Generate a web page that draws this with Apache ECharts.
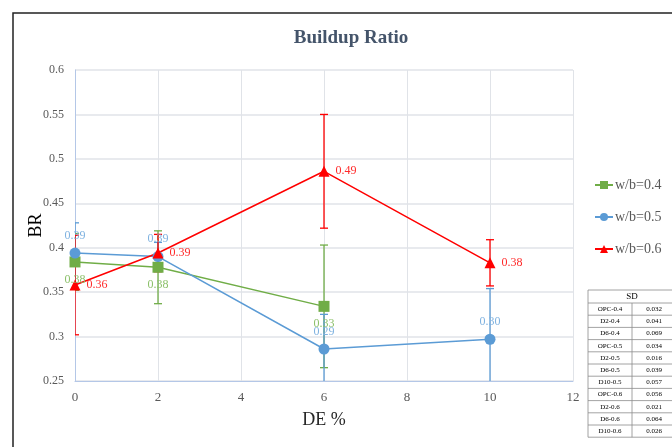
<!DOCTYPE html>
<html lang="en">
<head>
<meta charset="UTF-8" />
<title>Buildup Ratio</title>
<script src="https://cdn.jsdelivr.net/npm/echarts@6.0.0/dist/echarts.min.js"></script>
<style>
  html, body { margin: 0; padding: 0; background: #fff; }
  #main { width: 672px; height: 447px; }
</style>
</head>
<body>
<div id="main"></div>
<script>
// DE % positions and build-up ratio per w/b series
const deX04 = [0, 2, 6];
const br04 = [0.384, 0.378, 0.334];
const sd04 = [0.032, 0.041, 0.069];

const deX05 = [0, 2, 6, 10];
const br05 = [0.394, 0.390, 0.286, 0.297];
const sd05 = [0.034, 0.016, 0.039, 0.057];

const deX06 = [0, 2, 6, 10];
const br06 = [0.358, 0.394, 0.486, 0.383];
const sd06 = [0.056, 0.021, 0.064, 0.026];

const seriesNames = ['w/b=0.4', 'w/b=0.5', 'w/b=0.6'];
const sdNames = ['OPC-0.4', 'D2-0.4', 'D6-0.4', 'OPC-0.5', 'D2-0.5', 'D6-0.5',
  'D10-0.5', 'OPC-0.6', 'D2-0.6', 'D6-0.6', 'D10-0.6'];
const sdValues = sd04.concat(sd05, sd06);

const FONT = '"Liberation Serif", "DejaVu Serif", serif';

function pairs(xs, ys) {
  return xs.map((x, i) => [x, ys[i]]);
}

function errorSeries(name, xs, ys, sds, color) {
  return {
    type: 'custom',
    name: name + ' SD',
    silent: true,
    clip: true,
    z: 1,
    data: xs.map((x, i) => [x, ys[i] - sds[i], ys[i] + sds[i]]),
    encode: { x: 0, y: [1, 2] },
    renderItem: function (params, api) {
      const lo = api.coord([api.value(0), api.value(1)]);
      const hi = api.coord([api.value(0), api.value(2)]);
      const w = 4;
      const st = { stroke: color, lineWidth: 1.3 };
      return {
        type: 'group',
        children: [
          { type: 'line', shape: { x1: lo[0], y1: lo[1], x2: hi[0], y2: hi[1] }, style: st },
          { type: 'line', shape: { x1: lo[0] - w, y1: lo[1], x2: lo[0] + w, y2: lo[1] }, style: st },
          { type: 'line', shape: { x1: hi[0] - w, y1: hi[1], x2: hi[0] + w, y2: hi[1] }, style: st }
        ]
      };
    }
  };
}

function lineSeries(name, xs, ys, color, labelColor, symbol, size, pos) {
  return {
    type: 'line',
    name: name,
    z: 3,
    data: pairs(xs, ys),
    symbol: symbol,
    symbolSize: size,
    itemStyle: { color: color },
    lineStyle: { color: color, width: 1.5 },
    label: {
      show: true,
      position: pos,
      distance: 6,
      color: labelColor,
      fontFamily: FONT,
      fontSize: 12,
      formatter: p => p.value[1].toFixed(2)
    }
  };
}

// SD table, built from the arrays above
const tblLeft = 588, tblTop = 290, colW = [44, 44], headH = 13, rowH = 12.2;
const tblW = colW[0] + colW[1];
const tblChildren = [];
const tblH = headH + rowH * sdNames.length;
tblChildren.push({ type: 'rect', shape: { x: tblLeft, y: tblTop, width: tblW, height: tblH },
  style: { fill: '#fff', stroke: '#8c8c8c', lineWidth: 0.8 } });
tblChildren.push({ type: 'text', x: tblLeft + tblW / 2, y: tblTop + headH / 2,
  style: { text: 'SD', font: '9px ' + FONT, fill: '#000', align: 'center', verticalAlign: 'middle' } });
tblChildren.push({ type: 'line', shape: { x1: tblLeft + colW[0], y1: tblTop + headH, x2: tblLeft + colW[0], y2: tblTop + tblH },
  style: { stroke: '#8c8c8c', lineWidth: 0.8 } });
sdNames.forEach((n, i) => {
  const y = tblTop + headH + rowH * i;
  tblChildren.push({ type: 'line', shape: { x1: tblLeft, y1: y, x2: tblLeft + tblW, y2: y },
    style: { stroke: '#8c8c8c', lineWidth: 0.8 } });
  tblChildren.push({ type: 'text', x: tblLeft + colW[0] / 2, y: y + rowH / 2,
    style: { text: n, font: '7px ' + FONT, fill: '#000', align: 'center', verticalAlign: 'middle' } });
  tblChildren.push({ type: 'text', x: tblLeft + colW[0] + colW[1] / 2, y: y + rowH / 2,
    style: { text: sdValues[i].toFixed(3), font: '7px ' + FONT, fill: '#000', align: 'center', verticalAlign: 'middle' } });
});

const chart = echarts.init(document.getElementById('main'));

const options = {
  animation: false,
  backgroundColor: '#fff',
  title: {
    text: 'Buildup Ratio',
    left: 346,
    top: 24,
    textAlign: 'center',
    textStyle: { fontFamily: FONT, fontSize: 19, fontWeight: 'bold', color: '#44546a' }
  },
  legend: {
    orient: 'vertical',
    left: 594,
    top: 178,
    itemGap: 18,
    itemWidth: 18,
    itemHeight: 10,
    padding: 0,
    data: seriesNames,
    textStyle: { fontFamily: FONT, fontSize: 14, color: '#595959', padding: [0, 0, 0, -3] }
  },
  grid: { left: 75, right: 99, top: 70, bottom: 66 },
  xAxis: {
    type: 'value',
    min: 0,
    max: 12,
    interval: 2,
    name: 'DE %',
    nameLocation: 'middle',
    nameGap: 30,
    nameTextStyle: { fontFamily: FONT, fontSize: 18, color: '#262626' },
    axisLine: { lineStyle: { color: '#b4c7e7', width: 1 } },
    axisTick: { show: false },
    axisLabel: { fontFamily: FONT, fontSize: 13, color: '#595959', margin: 10 },
    splitLine: { show: true, lineStyle: { color: '#e0e3e8' } }
  },
  yAxis: {
    type: 'value',
    min: 0.25,
    max: 0.6,
    interval: 0.05,
    name: 'BR',
    nameLocation: 'middle',
    nameGap: 30,
    nameMoveOverlap: false,
    nameTextStyle: { fontFamily: FONT, fontSize: 18, color: '#000' },
    axisLine: { show: true, lineStyle: { color: '#b4c7e7', width: 1 } },
    axisTick: { show: false },
    axisLabel: { fontFamily: FONT, fontSize: 12, color: '#595959', margin: 11 },
    splitLine: { show: true, lineStyle: { color: '#e0e3e8', width: 1.5 } }
  },
  graphic: [
    { type: 'rect', shape: { x: 13, y: 13, width: 720, height: 520 },
      style: { fill: 'none', stroke: '#222', lineWidth: 1.5 }, z: 0 },
    { type: 'group', children: tblChildren, z: 5 }
  ],
  series: [
    errorSeries(seriesNames[0], deX04, br04, sd04, '#70ad47'),
    errorSeries(seriesNames[1], deX05, br05, sd05, '#5b9bd5'),
    errorSeries(seriesNames[2], deX06, br06, sd06, '#ff0000'),
    lineSeries(seriesNames[0], deX04, br04, '#70ad47', '#8cc06a', 'rect', 11, 'bottom'),
    lineSeries(seriesNames[1], deX05, br05, '#5b9bd5', '#7fb2e0', 'circle', 11, 'top'),
    lineSeries(seriesNames[2], deX06, br06, '#ff0000', '#ff2a2a', 'triangle', 11, 'right')
  ]
};

chart.setOption(options);

window.onresize = function () {
  chart.resize();
};
</script>
</body>
</html>
